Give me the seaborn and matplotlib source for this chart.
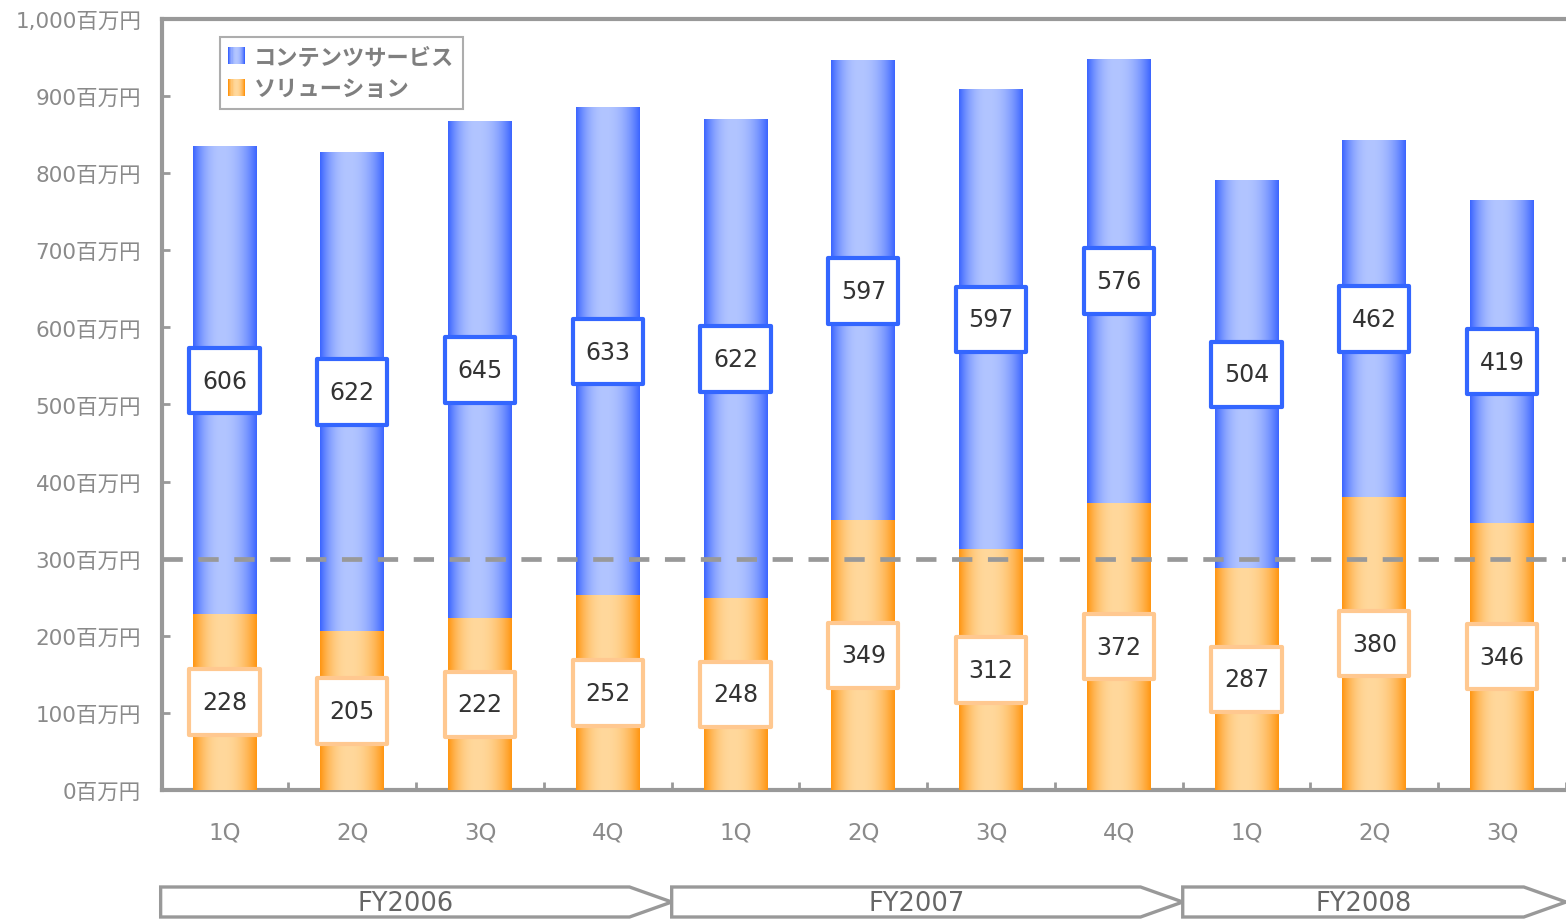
import numpy as np
import pandas as pd
import matplotlib
matplotlib.use("Agg")
import matplotlib.pyplot as plt
import seaborn as sns
from matplotlib.patches import Rectangle, Polygon
from matplotlib.legend_handler import HandlerBase
import matplotlib.transforms as mtransforms
from matplotlib.colors import to_rgb

# ---------------- data ----------------
fiscal_years = ["FY2006"] * 4 + ["FY2007"] * 4 + ["FY2008"] * 3
quarters = ["1Q", "2Q", "3Q", "4Q", "1Q", "2Q", "3Q", "4Q", "1Q", "2Q", "3Q"]
solution = [228, 205, 222, 252, 248, 349, 312, 372, 287, 380, 346]
content = [606, 622, 645, 633, 622, 597, 597, 576, 504, 462, 419]
series_names = ["コンテンツサービス", "ソリューション"]
y_ticks = [0, 100, 200, 300, 400, 500, 600, 700, 800, 900, 1000]
y_unit = "百万円"
reference_value = 300

# ---------------- style ----------------
BLUE_EDGE, BLUE_MID = "#3A64FF", "#B2C5FF"
ORANGE_EDGE, ORANGE_MID = "#FF9510", "#FFD89C"
BLUE_BOX, ORANGE_BOX = "#3366FF", "#FFC890"
GRAY = "#999999"
TXT_GRAY = "#8A8A8A"
NUM_FONT = ["DejaVu Sans", "Noto Sans CJK JP"]

sns.set_theme(style="white")
plt.rcParams["font.family"] = ["Noto Sans CJK JP", "DejaVu Sans"]

df = pd.DataFrame({
    "period": [f"{fy} {q}" for fy, q in zip(fiscal_years, quarters)],
    "quarter": quarters,
    "fy": fiscal_years,
    "solution": solution,
    "content": content,
})
df["total"] = df["solution"] + df["content"]

fig = plt.figure(figsize=(15.66, 9.2), dpi=100)
ax = fig.add_axes([0.1034, 0.1402, 0.8966, 0.8381])

sns.barplot(data=df, x="period", y="total", color=BLUE_MID, width=0.5,
            saturation=1, ax=ax, zorder=2)
sns.barplot(data=df, x="period", y="solution", color=ORANGE_MID, width=0.5,
            saturation=1, ax=ax, zorder=2)

XLIM = (-0.49, 10.44)
ax.set_xlim(*XLIM)
ax.set_ylim(0, 1000)
ax.set_autoscale_on(False)


def gradient(edge, mid, n=256):
    t = np.linspace(0, 1, n)
    peak = 0.45
    d = np.where(t < peak, (peak - t) / peak, (t - peak) / (1 - peak))
    f = 1 - d ** 2.2
    e = np.array(to_rgb(edge))
    m = np.array(to_rgb(mid))
    return (e[None, :] * (1 - f[:, None]) + m[None, :] * f[:, None])[None, :, :]


grad_blue = gradient(BLUE_EDGE, BLUE_MID)
grad_orange = gradient(ORANGE_EDGE, ORANGE_MID)

n = len(df)
patches = list(ax.patches)
for k, p in enumerate(patches):
    g = grad_blue if k < n else grad_orange
    x0, w = p.get_x(), p.get_width()
    y0, h = p.get_y(), p.get_height()
    ax.imshow(g, extent=(x0, x0 + w, y0, y0 + h), aspect="auto",
              interpolation="bilinear", zorder=2.5 + (0.1 if k >= n else 0))
    p.set_visible(False)

ax.set_xlim(*XLIM)
ax.set_ylim(0, 1000)

# reference dashed line
ax.axhline(reference_value, color=GRAY, lw=3.4, ls=(0, (4.3, 3.3)), zorder=4)

# value boxes
bw, bh = 0.55, 85
for i in range(n):
    s, c = solution[i], content[i]
    for val, mid, ec in ((s, s / 2, ORANGE_BOX), (c, s + c / 2, BLUE_BOX)):
        ax.add_patch(Rectangle((i - bw / 2, mid - bh / 2), bw, bh, facecolor="white",
                               edgecolor=ec, lw=3, zorder=5, joinstyle="round"))
        ax.text(i, mid, f"{val}", ha="center", va="center", fontsize=17,
                color="#333333", zorder=6, family=NUM_FONT)

# axes styling
for side in ("left", "bottom", "top"):
    ax.spines[side].set_color(GRAY)
    ax.spines[side].set_linewidth(3)
ax.spines["right"].set_visible(False)

ax.set_yticks(y_ticks)
ax.set_yticklabels([f"{v:,}{y_unit}" for v in y_ticks])
ax.tick_params(axis="y", direction="in", length=6, width=2, color=GRAY,
               labelcolor=TXT_GRAY, labelsize=15.5, pad=15, left=True)
for t in ax.get_yticklabels():
    t.set_family(NUM_FONT)

ax.set_xticks(range(n))
ax.set_xticklabels(quarters)
ax.set_xticks(np.arange(0.5, n, 1.0), minor=True)
ax.tick_params(axis="x", which="major", length=0, pad=22, labelsize=16.5,
               labelcolor=TXT_GRAY)
ax.tick_params(axis="x", which="minor", direction="in", length=6, width=2,
               color=GRAY, bottom=True)
for t in ax.get_xticklabels():
    t.set_family(NUM_FONT)
ax.set_xlabel("")
ax.set_ylabel("")
ax.grid(False)


# legend with gradient squares
class GradHandler(HandlerBase):
    def __init__(self, edge, mid):
        super().__init__()
        self.edge, self.mid = edge, mid

    def create_artists(self, legend, orig_handle, xdescent, ydescent, width,
                       height, fontsize, trans):
        g = gradient(self.edge, self.mid, 16)[0]
        size = min(width, height * 1.25)
        x0 = -xdescent + (width - size) / 2
        y0 = -ydescent + (height - size) / 2
        arts = []
        m = len(g)
        for j in range(m):
            arts.append(Rectangle((x0 + j * size / m, y0), size / m * 1.05, size,
                                  facecolor=g[j], edgecolor="none", transform=trans))
        return arts


h_content = Rectangle((0, 0), 1, 1)
h_solution = Rectangle((0, 0), 1, 1)
leg = ax.legend([h_content, h_solution], series_names,
                handler_map={h_content: GradHandler(BLUE_EDGE, BLUE_MID),
                             h_solution: GradHandler(ORANGE_EDGE, ORANGE_MID)},
                loc="upper left", bbox_to_anchor=(0.0413, 0.977),
                borderaxespad=0, frameon=True, fancybox=False,
                handlelength=0.75, handleheight=0.85, handletextpad=0.4,
                labelspacing=0.42, borderpad=0.38,
                prop={"size": 16, "weight": "bold"})
leg.get_frame().set_edgecolor(GRAY)
leg.get_frame().set_linewidth(1.5)
for t in leg.get_texts():
    t.set_color("#7F7F7F")
leg.set_zorder(7)

# fiscal-year arrow banners below the axis
trans = mtransforms.blended_transform_factory(ax.transData, fig.transFigure)
y_top, y_bot = 1 - 888 / 920, 1 - 918 / 920
y_mid = (y_top + y_bot) / 2
arrow_depth = 0.33
fy_order = list(dict.fromkeys(fiscal_years))
for fy in fy_order:
    idx = [i for i, f in enumerate(fiscal_years) if f == fy]
    left, right = min(idx) - 0.5, max(idx) + 0.5
    poly = Polygon([(left, y_bot), (left, y_top), (right - arrow_depth, y_top),
                    (right, y_mid), (right - arrow_depth, y_bot)], closed=True,
                   facecolor="white", edgecolor=GRAY, lw=2.4, transform=trans,
                   clip_on=False, joinstyle="miter")
    ax.add_patch(poly)
    ax.text((left + right - arrow_depth) / 2 + 0.08, y_mid - 0.001, fy, transform=trans,
            ha="center", va="center", fontsize=18.5, color="#666666", clip_on=False,
            family=NUM_FONT)

fig.savefig("out.png", dpi=100)
